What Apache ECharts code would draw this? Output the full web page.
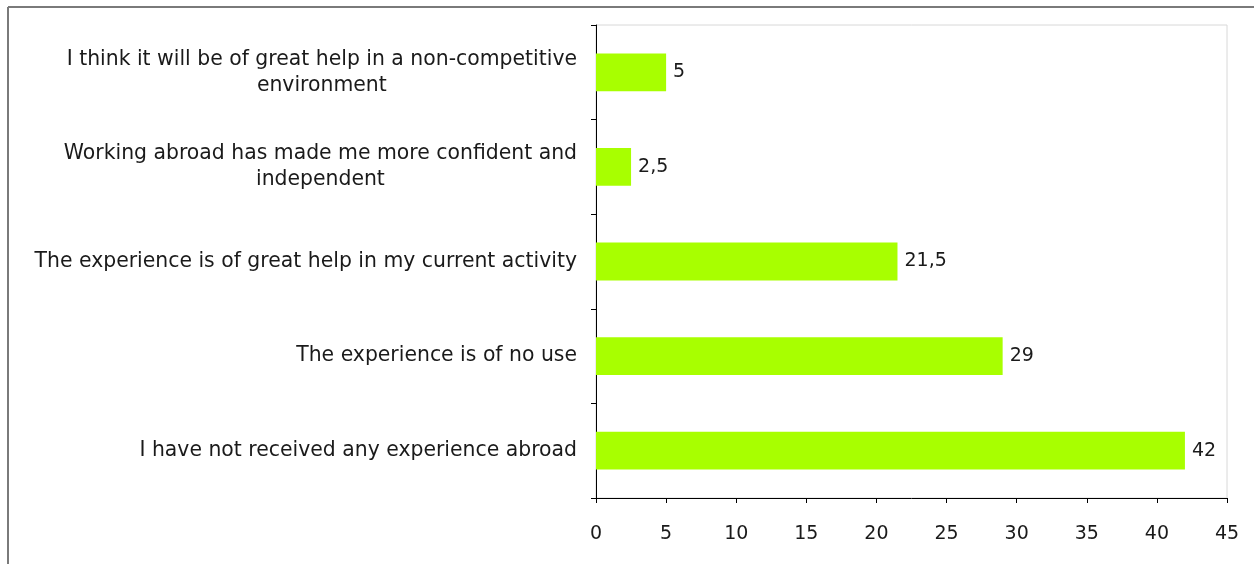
<!DOCTYPE html>
<html>
<head>
<meta charset="utf-8">
<script src="https://cdn.jsdelivr.net/npm/echarts@6/dist/echarts.min.js"></script>
<style>
  html, body { margin: 0; padding: 0; background: #fff; }
  #chart { width: 1254px; height: 564px; }
</style>
</head>
<body>
<div id="chart"></div>
<script>
// Survey responses, listed top to bottom
const categories = [
  'I think it will be of great help in a non-competitive\nenvironment',
  'Working abroad has made me more confident and\nindependent',
  'The experience is of great help in my current activity',
  'The experience is of no use',
  'I have not received any experience abroad'
];
const values = [5, 2.5, 21.5, 29, 42];
const xTicks = { min: 0, max: 45, interval: 5 };

const FONT = '"DejaVu Sans", Verdana, sans-serif';
const TEXT = '#1a1a1a';

const chart = echarts.init(document.getElementById('chart'), null, { renderer: 'canvas' });

chart.setOption({
  backgroundColor: '#ffffff',
  animation: false,
  graphic: [
    // frame around the figure (left and top edges)
    { type: 'line', shape: { x1: 8, y1: 7, x2: 1254, y2: 7 }, style: { stroke: '#7a7a7a', lineWidth: 2 } },
    { type: 'line', shape: { x1: 8, y1: 7, x2: 8, y2: 564 }, style: { stroke: '#7a7a7a', lineWidth: 2 } }
  ],
  grid: {
    left: 596, right: 27, top: 25, bottom: 66,
    show: true, borderColor: '#d8d8d8', borderWidth: 1
  },
  xAxis: {
    type: 'value',
    min: xTicks.min, max: xTicks.max, interval: xTicks.interval,
    axisLine: { show: true, lineStyle: { color: '#000', width: 1 } },
    axisTick: { show: true, length: 5, inside: false, lineStyle: { color: '#000' } },
    splitLine: { show: false },
    axisLabel: { color: TEXT, fontFamily: FONT, fontSize: 19, margin: 27 }
  },
  yAxis: {
    type: 'category',
    inverse: true,
    data: categories,
    axisLine: { show: true, lineStyle: { color: '#000', width: 1 } },
    axisTick: { show: true, length: 5, lineStyle: { color: '#000' } },
    axisLabel: {
      color: TEXT, fontFamily: FONT, fontSize: 20.4, margin: 19, lineHeight: 26,
      align: 'right',
      formatter: function (v) {
        return v.split('\n').map(function (l) { return '{c|' + l + '}'; }).join('\n');
      },
      rich: {
        c: { align: 'center', color: TEXT, fontFamily: FONT, fontSize: 20.4, lineHeight: 26 }
      }
    }
  },
  series: [{
    type: 'bar',
    data: values,
    barWidth: '40%',
    itemStyle: { color: '#a8ff00' },
    label: {
      show: true, position: 'right', distance: 7,
      color: TEXT, fontFamily: FONT, fontSize: 19,
      formatter: function (p) { return String(p.value).replace('.', ','); }
    }
  }]
});
</script>
</body>
</html>
